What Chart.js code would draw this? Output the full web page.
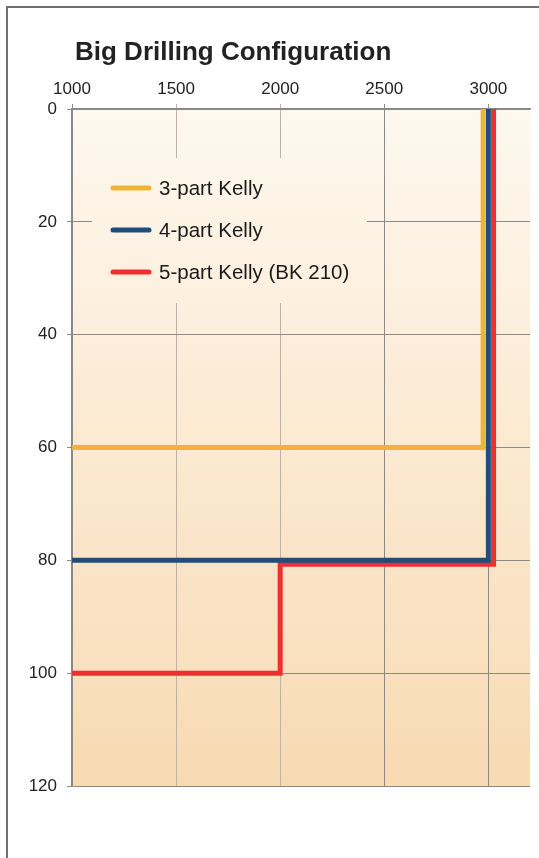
<!DOCTYPE html>
<html>
<head>
<meta charset="utf-8">
<script src="https://cdn.jsdelivr.net/npm/chart.js@4"></script>
<style>
  body { margin: 0; background: #fff; }
  #chart { display: block; }
</style>
</head>
<body>
<canvas id="chart" width="539" height="858"></canvas>
<script>
    var titulo = "Big Drilling Configuration";
    var rotulos = ["3-part Kelly", "4-part Kelly", "5-part Kelly (BK 210)"];
    var cores = ["#EDB436", "#1D4E7C", "#EF2F2F"];

    // force (x) vs depth (y) for each kelly
    var kelly3X = [1000, 2975, 2975];
    var kelly3Y = [60, 60, 0];
    var kelly4X = [1000, 3000, 3000];
    var kelly4Y = [80, 80, 0];
    var kelly5X = [1000, 2000, 2000, 3025, 3025];
    var kelly5Y = [100, 100, 80.7, 80.7, 0];

    var ticksX = [1000, 1500, 2000, 2500, 3000];
    var ticksY = [0, 20, 40, 60, 80, 100, 120];

    var fonte = '"Liberation Sans", Arial, sans-serif';

    function pontos(xs, ys) {
        return xs.map(function (x, i) { return { x: x, y: ys[i] }; });
    }

    function serie(i, xs, ys) {
        return {
            label: rotulos[i],
            data: pontos(xs, ys),
            borderColor: cores[i],
            backgroundColor: cores[i],
            borderWidth: 5,
            borderJoinStyle: 'miter',
            borderCapStyle: 'butt',
            showLine: true,
            pointRadius: 0,
            tension: 0
        };
    }

    function degrade(chart) {
        var a = chart.chartArea;
        var g = chart.ctx.createLinearGradient(0, a.top, 0, a.bottom);
        g.addColorStop(0, '#FEF8EF');
        g.addColorStop(1, '#F8DAB3');
        return g;
    }

    var fundo = {
        id: 'fundo',
        beforeDraw: function (chart) {
            var ctx = chart.ctx, a = chart.chartArea;
            ctx.save();
            ctx.strokeStyle = '#707070';
            ctx.lineWidth = 2;
            ctx.beginPath();
            ctx.moveTo(7, 858);
            ctx.lineTo(7, 7);
            ctx.lineTo(539, 7);
            ctx.stroke();
            ctx.fillStyle = degrade(chart);
            ctx.fillRect(a.left, a.top, a.right - a.left, a.bottom - a.top);
            ctx.fillStyle = '#222';
            ctx.font = 'bold 26px ' + fonte;
            ctx.textBaseline = 'alphabetic';
            ctx.textAlign = 'left';
            ctx.fillText(titulo, 75, 60);
            ctx.restore();
        },
        beforeDatasetsDraw: function (chart) {
            var ctx = chart.ctx;
            ctx.save();
            ctx.fillStyle = degrade(chart);
            ctx.fillRect(92, 158, 275, 145);
            ctx.font = '20.5px ' + fonte;
            ctx.textBaseline = 'middle';
            ctx.textAlign = 'left';
            var linhas = [188, 230, 272];
            chart.data.datasets.forEach(function (ds, i) {
                var y = linhas[i];
                ctx.strokeStyle = ds.borderColor;
                ctx.lineWidth = 5;
                ctx.lineCap = 'round';
                ctx.beginPath();
                ctx.moveTo(113, y);
                ctx.lineTo(149, y);
                ctx.stroke();
                ctx.fillStyle = '#1a1a1a';
                ctx.fillText(ds.label, 159, y + 1);
            });
            ctx.restore();
        }
    };

    var config = {
        type: 'scatter',
        data: {
            datasets: [
                serie(0, kelly3X, kelly3Y),
                serie(1, kelly4X, kelly4Y),
                serie(2, kelly5X, kelly5Y)
            ]
        },
        options: {
            responsive: false,
            animation: false,
            layout: { padding: { left: 0, top: 0, right: 9, bottom: 72 } },
            plugins: {
                legend: { display: false },
                title: { display: false },
                tooltip: { enabled: false }
            },
            scales: {
                x: {
                    type: 'linear',
                    position: 'top',
                    min: 1000,
                    max: 3200,
                    afterBuildTicks: function (s) {
                        s.ticks = ticksX.map(function (v) { return { value: v }; });
                    },
                    afterFit: function (s) { s.height = 109; },
                    ticks: {
                        color: '#222',
                        padding: 4,
                        maxRotation: 0,
                        font: { family: fonte, size: 17 },
                        callback: function (v) { return String(v); }
                    },
                    grid: {
                        tickLength: 5,
                        color: function (c) {
                            var v = c.tick && c.tick.value;
                            return (v === 1500 || v === 2000) ? '#BDB2A5' : '#8A8A8A';
                        }
                    },
                    border: { color: '#888', width: 1.5 }
                },
                y: {
                    type: 'linear',
                    reverse: true,
                    min: 0,
                    max: 120,
                    afterBuildTicks: function (s) {
                        s.ticks = ticksY.map(function (v) { return { value: v }; });
                    },
                    afterFit: function (s) { s.width = 72; },
                    ticks: {
                        color: '#222',
                        padding: 10,
                        font: { family: fonte, size: 17 },
                        callback: function (v) { return String(v); }
                    },
                    grid: { tickLength: 5, color: '#8A8A8A' },
                    border: { color: '#888', width: 1.5 }
                }
            }
        },
        plugins: [fundo]
    };

    var grafico = new Chart(document.getElementById('chart'), config);
</script>
</body>
</html>
